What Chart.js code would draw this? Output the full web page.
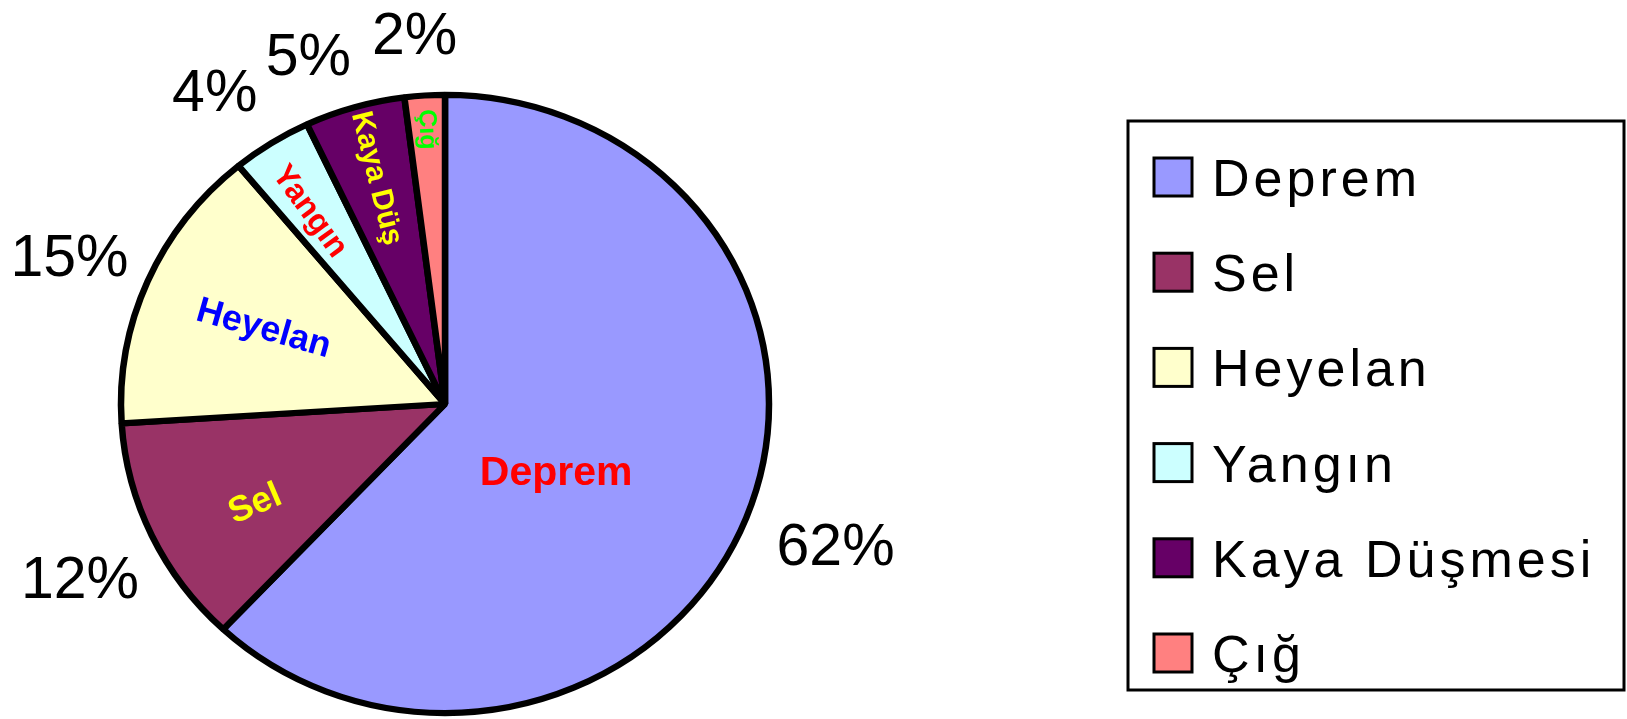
<!DOCTYPE html>
<html>
<head>
<meta charset="utf-8">
<script src="https://cdn.jsdelivr.net/npm/chart.js@4/dist/chart.umd.min.js"></script>
<style>
    body { margin: 0; background: #ffffff; }
    #kutu { width: 1627px; height: 719px; position: relative; }
</style>
</head>
<body>
<div id="kutu"><canvas id="grafik"></canvas></div>
<script>
// Veriler
const kategoriler = ['Deprem', 'Sel', 'Heyelan', 'Yangın', 'Kaya Düşmesi', 'Çığ'];
const kisaEtiketler = ['Deprem', 'Sel', 'Heyelan', 'Yangın', 'Kaya Düş', 'Çığ'];
const yuzdeler = [62, 12, 15, 4, 5, 2];

// Stil
const renkler = ['#9999ff', '#993366', '#ffffcc', '#ccffff', '#660066', '#ff8080'];
const yaziRenkleri = ['#ff0000', '#ffff00', '#0000ff', '#ff0000', '#ffff00', '#00ff00'];
const yaziBoyutlari = [41, 36, 36, 32, 30, 25];
const yaziAcilari = [0, -23, 16, 54, 76, 88];        // derece, saat yönünde
const yaziUzaklik = [0.41, 0.67, 0.61, 0.75, 0.76, 0.89];
const yaziAciKaydir = [11.6, -3.8, 0, -1.5, 0, 0];
const yuzdeKaydir = [[0, 5], [15, 17], [10, -4], [-14, -5], [-24, 1], [-5, -6]];

const YARICAP = 324;
const BASIK = 311 / 326;   // pasta hafif elips
const FONT = '"Liberation Sans", Arial, sans-serif';

const elipsPlugin = {
    id: 'elips',
    beforeDatasetsDraw(chart) {
        const arc = chart.getDatasetMeta(0).data[0];
        const ctx = chart.ctx;
        ctx.save();
        ctx.translate(arc.x, arc.y);
        ctx.scale(1, BASIK);
        ctx.translate(-arc.x, -arc.y);
    },
    afterDatasetsDraw(chart) {
        chart.ctx.restore();
    }
};

const etiketPlugin = {
    id: 'etiketler',
    afterDraw(chart) {
        const ctx = chart.ctx;
        const arcs = chart.getDatasetMeta(0).data;
        const toplam = yuzdeler.reduce((a, b) => a + b, 0);

        arcs.forEach((arc, i) => {
            const orta = (arc.startAngle + arc.endAngle) / 2;
            const cx = arc.x, cy = arc.y;

            // dilim içindeki isim
            const a2 = orta + yaziAciKaydir[i] * Math.PI / 180;
            const r2 = yaziUzaklik[i] * YARICAP;
            ctx.save();
            ctx.translate(cx + Math.cos(a2) * r2, cy + Math.sin(a2) * r2 * BASIK);
            ctx.rotate(yaziAcilari[i] * Math.PI / 180);
            ctx.font = 'bold ' + yaziBoyutlari[i] + 'px ' + FONT;
            ctx.fillStyle = yaziRenkleri[i];
            ctx.textAlign = 'center';
            ctx.textBaseline = 'middle';
            ctx.fillText(kisaEtiketler[i], 0, 0);
            ctx.restore();

            // dışarıdaki yüzde
            const metin = Math.round(yuzdeler[i] / toplam * 100) + '%';
            ctx.save();
            ctx.font = '59px ' + FONT;
            const w = ctx.measureText(metin).width;
            const h = 42;
            const r = YARICAP + 37;
            const px = cx + Math.cos(orta) * r + Math.cos(orta) * w / 2 + yuzdeKaydir[i][0];
            const py = cy + Math.sin(orta) * r * BASIK + Math.sin(orta) * h / 2 + yuzdeKaydir[i][1];
            ctx.fillStyle = '#000000';
            ctx.textAlign = 'center';
            ctx.textBaseline = 'alphabetic';
            ctx.fillText(metin, px, py + h / 2);
            ctx.restore();
        });

        // lejant
        ctx.save();
        ctx.lineWidth = 3;
        ctx.strokeStyle = '#000000';
        ctx.strokeRect(1128, 121, 496, 569);
        kategoriler.forEach((ad, i) => {
            const y = 177 + i * 95.2;
            ctx.fillStyle = renkler[i];
            ctx.fillRect(1154, y - 19, 38, 38);
            ctx.strokeRect(1154, y - 19, 38, 38);
            ctx.font = '52px ' + FONT;
            ctx.letterSpacing = '4px';
            ctx.fillStyle = '#000000';
            ctx.textAlign = 'left';
            ctx.textBaseline = 'alphabetic';
            ctx.fillText(ad, 1212, y + 19);
            ctx.letterSpacing = '0px';
        });
        ctx.restore();
    }
};

new Chart(document.getElementById('grafik'), {
    type: 'pie',
    data: {
        labels: kategoriler,
        datasets: [{
            data: yuzdeler,
            backgroundColor: renkler,
            borderColor: '#000000',
            borderWidth: 6.5,
            radius: YARICAP,
            clip: false
        }]
    },
    options: {
        responsive: true,
        maintainAspectRatio: false,
        animation: false,
        events: [],
        layout: { padding: { left: 115, right: 852, top: 89, bottom: 0 } },
        plugins: {
            legend: { display: false },
            tooltip: { enabled: false }
        }
    },
    plugins: [elipsPlugin, etiketPlugin]
});
</script>
</body>
</html>
